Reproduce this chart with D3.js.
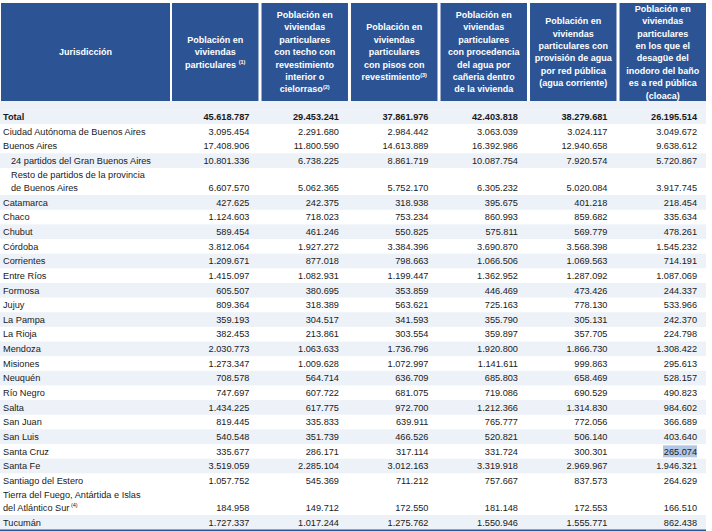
<!DOCTYPE html>
<html><head><meta charset="utf-8">
<script src="https://cdn.jsdelivr.net/npm/d3@7"></script>
<style>
html,body{margin:0;padding:0;background:#fff;}
svg{display:block;font-family:"Liberation Sans",Arial,sans-serif;}
</style></head>
<body><svg id="chart" width="712" height="531"></svg>
<script>
// ---- data ----
const jurisdicciones = [
  "Total",
  "Ciudad Autónoma de Buenos Aires",
  "Buenos Aires",
  "24 partidos del Gran Buenos Aires",
  "Resto de partidos de la provincia|de Buenos Aires",
  "Catamarca","Chaco","Chubut","Córdoba","Corrientes","Entre Ríos","Formosa","Jujuy",
  "La Pampa","La Rioja","Mendoza","Misiones","Neuquén","Río Negro","Salta","San Juan",
  "San Luis","Santa Cruz","Santa Fe","Santiago del Estero",
  "Tierra del Fuego, Antártida e Islas|del Atlántico Sur",
  "Tucumán"
];
const notaFila = {25:"(4)"};
const indentadas = [3,4];
const poblacionViviendas = [45618787,3095454,17408906,10801336,6607570,427625,1124603,589454,3812064,1209671,1415097,605507,809364,359193,382453,2030773,1273347,708578,747697,1434225,819445,540548,335677,3519059,1057752,184958,1727337];
const conTecho = [29453241,2291680,11800590,6738225,5062365,242375,718023,461246,1927272,877018,1082931,380695,318389,304517,213861,1063633,1009628,564714,607722,617775,335833,351739,286171,2285104,545369,149712,1017244];
const conPisos = [37861976,2984442,14613889,8861719,5752170,318938,753234,550825,3384396,798663,1199447,353859,563621,341593,303554,1736796,1072997,636709,681075,972700,639911,466526,317114,3012163,711212,172550,1275762];
const aguaCaneria = [42403818,3063039,16392986,10087754,6305232,395675,860993,575811,3690870,1066506,1362952,446469,725163,355790,359897,1920800,1141611,685803,719086,1212366,765777,520821,331724,3319918,757667,181148,1550946];
const aguaRedPublica = [38279681,3024117,12940658,7920574,5020084,401218,859682,569779,3568398,1069563,1287092,473426,778130,305131,357705,1866730,999863,658469,690529,1314830,772056,506140,300301,2969967,837573,172553,1555771];
const cloaca = [26195514,3049672,9638612,5720867,3917745,218454,335634,478261,1545232,714191,1087069,244337,533966,242370,224798,1308422,295613,528157,490823,984602,366689,403640,265074,1946321,264629,166510,862438];

const encabezadoJur = "Jurisdicción";
const encabezados = [
  ["Población en","viviendas","particulares ^(1)"],
  ["Población en","viviendas","particulares","con techo con","revestimiento","interior o","cielorraso^(2)"],
  ["Población en","viviendas","particulares","con pisos con","revestimiento^(3)"],
  ["Población en","viviendas","particulares","con procedencia","del agua por","cañeria dentro","de la vivienda"],
  ["Población en","viviendas","particulares con","provisión de agua","por red pública","(agua corriente)"],
  ["Población en","viviendas","particulares","en los que el","desagüe del","inodoro del baño","es a red pública","(cloaca)"]
];
const series = [poblacionViviendas, conTecho, conPisos, aguaCaneria, aguaRedPublica, cloaca];
const destacado = {row:22, col:5};

// ---- drawing ----
const svg = d3.select("#chart");
const loc = d3.formatLocale({decimal:",", thousands:".", grouping:[3], currency:["$",""]});
const fmt = loc.format(",d");

const BLUE = "#2c5495", STRIPE = "#edf1f8", TXT = "#1a1a1a";
// shaded rows (styling)
const sombreadas = new Set([0,3,5,7,9,11,13,15,17,19,21,23,26]);

// columns
const xCols = d3.scaleBand().domain(d3.range(series.length)).range([172, 706]).paddingInner(0.034);
const jurX0 = 1, jurX1 = 170;

// rows: variable heights in units
const units = jurisdicciones.map(n => n.includes("|") ? 1.85 : 1);
const cum = [0]; units.forEach((u,i)=>cum.push(cum[i]+u));
const y = d3.scaleLinear().domain([0, cum[cum.length-1]]).range([109.4, 529.7]);

// header
const hTop = 3, hBot = 101;
svg.append("rect").attr("x", jurX0).attr("y", hTop).attr("width", jurX1-jurX0).attr("height", hBot-hTop).attr("fill", BLUE);
svg.append("text").attr("x",(jurX0+jurX1)/2).attr("y",(hTop+hBot)/2+3.2).attr("text-anchor","middle")
  .attr("fill","#fff").attr("font-weight","bold").attr("font-size",9).text(encabezadoJur);

const LH = 12.4;
encabezados.forEach((lines, c) => {
  const x0 = xCols(c), w = xCols.bandwidth();
  svg.append("rect").attr("x", x0).attr("y", hTop).attr("width", w).attr("height", hBot-hTop).attr("fill", BLUE);
  const mid = (hTop+hBot)/2;
  const start = mid - (lines.length-1)*LH/2;
  lines.forEach((ln, i) => {
    const t = svg.append("text").attr("x", x0 + w/2).attr("y", start + i*LH + 3.2)
      .attr("text-anchor","middle").attr("fill","#fff").attr("font-weight","bold").attr("font-size",9);
    const parts = ln.split("^");
    t.append("tspan").text(parts[0]);
    if (parts[1]) t.append("tspan").attr("font-size",5.5).attr("dy",-3.5).text(parts[1]);
  });
});

// light area under header
svg.append("rect").attr("x",0).attr("y",hBot).attr("width",706).attr("height",y(0)-hBot).attr("fill",STRIPE);

// rows
jurisdicciones.forEach((name, r) => {
  const top = y(cum[r]), bot = y(cum[r+1]);
  const g = svg.append("g");
  if (sombreadas.has(r)) g.append("rect").attr("x",0).attr("y",top).attr("width",706).attr("height",bot-top).attr("fill",STRIPE);
  const bold = r === 0;
  const lines = name.split("|");
  const two = lines.length > 1;
  const tx = indentadas.includes(r) ? 11 : 3;
  lines.forEach((ln, i) => {
    const t = g.append("text").attr("x", tx)
      .attr("y", two ? top + 6.8 + i*12.7 + 3.3 : (top+bot)/2 + 3.3)
      .attr("font-size", 9.2).attr("fill", TXT).attr("font-weight", bold ? "bold" : null);
    t.append("tspan").text(ln);
    if (i === lines.length-1 && notaFila[r]) {
      t.append("tspan").attr("font-size",5.5).attr("dy",-3.5).text(" " + notaFila[r]);
    }
  });
  const vy = two ? bot - 3.6 : (top+bot)/2 + 3.3;
  series.forEach((s, c) => {
    const xr = xCols(c) + xCols.bandwidth() - 9;
    if (destacado.row === r && destacado.col === c) {
      g.append("rect").attr("x", xr - 34).attr("y", (top+bot)/2 - 6).attr("width", 34).attr("height", 12).attr("fill", "#b1c7e4");
    }
    g.append("text").attr("x", xr).attr("y", vy).attr("text-anchor","end")
      .attr("font-size", 9.2).attr("fill", TXT).attr("font-weight", bold ? "bold" : null)
      .text(fmt(s[r]));
  });
});

// bottom rule
svg.append("line").attr("x1",0).attr("x2",706).attr("y1",y.range()[1]+0.5).attr("y2",y.range()[1]+0.5)
  .attr("stroke", BLUE).attr("stroke-width",1.5);
</script></body></html>
